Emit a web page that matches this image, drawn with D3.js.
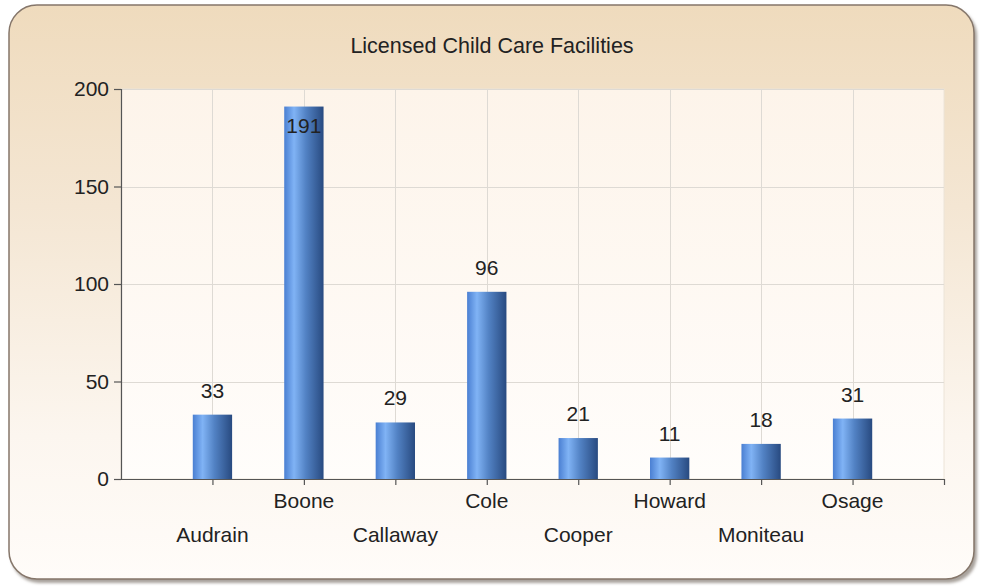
<!DOCTYPE html>
<html>
<head>
<meta charset="utf-8">
<script src="https://cdn.jsdelivr.net/npm/d3@7"></script>
<style>
  html, body { margin: 0; padding: 0; background: #ffffff; }
  svg { display: block; }
  text { font-family: "Liberation Sans", Arial, sans-serif; fill: #222; }
</style>
</head>
<body>
<svg id="chart" width="982" height="588"></svg>
<script>
// Licensed child care facilities by county
const counties = ["Audrain", "Boone", "Callaway", "Cole", "Cooper", "Howard", "Moniteau", "Osage"];
const facilities = [33, 191, 29, 96, 21, 11, 18, 31];
const yTicks = [0, 50, 100, 150, 200];
const chartTitle = "Licensed Child Care Facilities";

const W = 982, H = 588;
const plot = { left: 121, right: 944, top: 89, bottom: 479 };

const svg = d3.select("#chart");
const defs = svg.append("defs");

// Frame background: tan at top fading to near white
const frameGrad = defs.append("linearGradient").attr("id", "frameGrad")
  .attr("x1", 0).attr("y1", 0).attr("x2", 0).attr("y2", 1);
frameGrad.append("stop").attr("offset", "0%").attr("stop-color", "#efdbbd");
frameGrad.append("stop").attr("offset", "35%").attr("stop-color", "#f4e6d3");
frameGrad.append("stop").attr("offset", "75%").attr("stop-color", "#fcf6ef");
frameGrad.append("stop").attr("offset", "100%").attr("stop-color", "#fffcf9");

// Plot area background
const plotGrad = defs.append("linearGradient").attr("id", "plotGrad")
  .attr("x1", 0).attr("y1", 0).attr("x2", 0).attr("y2", 1);
plotGrad.append("stop").attr("offset", "0%").attr("stop-color", "#fdf4ea");
plotGrad.append("stop").attr("offset", "100%").attr("stop-color", "#fffdfb");

// Cylinder-like shading for the bars
const barGrad = defs.append("linearGradient").attr("id", "barGrad")
  .attr("x1", 0).attr("y1", 0).attr("x2", 1).attr("y2", 0);
barGrad.append("stop").attr("offset", "0%").attr("stop-color", "#4a7fd2");
barGrad.append("stop").attr("offset", "25%").attr("stop-color", "#80b3f5");
barGrad.append("stop").attr("offset", "55%").attr("stop-color", "#5282c4");
barGrad.append("stop").attr("offset", "100%").attr("stop-color", "#284a80");

const shadowBlur = defs.append("filter").attr("id", "shadowBlur")
  .attr("x", "-5%").attr("y", "-5%").attr("width", "110%").attr("height", "110%");
shadowBlur.append("feGaussianBlur").attr("stdDeviation", 1.5);

// Frame with soft shadow
svg.append("rect")
  .attr("x", 11).attr("y", 8).attr("width", 966).attr("height", 575)
  .attr("rx", 28).attr("ry", 28)
  .attr("fill", "#a8a29c").attr("filter", "url(#shadowBlur)");
svg.append("rect")
  .attr("x", 9).attr("y", 5).attr("width", 965).attr("height", 574)
  .attr("rx", 28).attr("ry", 28)
  .attr("fill", "url(#frameGrad)")
  .attr("stroke", "#85766a").attr("stroke-width", 1.5);

// Title
svg.append("text")
  .attr("x", 492).attr("y", 53)
  .attr("text-anchor", "middle")
  .style("font-size", "21.5px")
  .text(chartTitle);

// Scales
const x = d3.scaleLinear().domain([0, counties.length + 1]).range([plot.left, plot.right]);
const y = d3.scaleLinear().domain([0, 200]).range([plot.bottom, plot.top]);
const step = x(1) - x(0);
const barW = step * 0.43;

// Plot background
svg.append("rect")
  .attr("x", plot.left).attr("y", plot.top)
  .attr("width", plot.right - plot.left).attr("height", plot.bottom - plot.top)
  .attr("fill", "url(#plotGrad)")
  .attr("stroke", "#ece4d8").attr("stroke-width", 1);

// Gridlines
const grid = svg.append("g").attr("stroke", "#dedad4").attr("stroke-width", 1);
grid.selectAll("line.h").data(yTicks.filter(t => t > 0)).join("line")
  .attr("class", "h")
  .attr("x1", plot.left).attr("x2", plot.right)
  .attr("y1", d => Math.round(y(d)) + 0.5).attr("y2", d => Math.round(y(d)) + 0.5);
grid.selectAll("line.v").data(counties).join("line")
  .attr("class", "v")
  .attr("y1", plot.top).attr("y2", plot.bottom)
  .attr("x1", (d, i) => Math.round(x(i + 1)) + 0.5)
  .attr("x2", (d, i) => Math.round(x(i + 1)) + 0.5);

// Bars
svg.append("g").selectAll("rect").data(facilities).join("rect")
  .attr("x", (d, i) => x(i + 1) - barW / 2)
  .attr("y", d => y(d))
  .attr("width", barW)
  .attr("height", d => y(0) - y(d))
  .attr("fill", "url(#barGrad)");

// Value labels: above the bar, or inside its top if there is no room
svg.append("g").selectAll("text").data(facilities).join("text")
  .attr("x", (d, i) => x(i + 1))
  .attr("y", d => (y(d) - 34 < plot.top) ? y(d) + 26 : y(d) - 17)
  .attr("text-anchor", "middle")
  .style("font-size", "21px")
  .text(d => d);

// Y axis
const yAxis = d3.axisLeft(y).tickValues(yTicks).tickSize(7).tickPadding(5);
const gy = svg.append("g").attr("transform", `translate(${plot.left},0)`).call(yAxis);
gy.select(".domain").attr("stroke", "#555").attr("stroke-width", 1.2);
gy.selectAll(".tick line").attr("stroke", "#555").attr("stroke-width", 1.2);
gy.selectAll(".tick text").style("font-size", "21px").attr("fill", "#222")
  .style("font-family", "'Liberation Sans', Arial, sans-serif");

// X axis: category ticks plus closing tick at the right end
const xAxis = d3.axisBottom(x)
  .tickValues(d3.range(1, counties.length + 2))
  .tickSize(6).tickSizeOuter(0)
  .tickFormat(() => "");
const gx = svg.append("g").attr("transform", `translate(0,${plot.bottom})`).call(xAxis);
gx.select(".domain").attr("stroke", "#555").attr("stroke-width", 1.2);
gx.selectAll(".tick line").attr("stroke", "#555").attr("stroke-width", 1.2);

// Category labels, staggered on two rows
svg.append("g").selectAll("text").data(counties).join("text")
  .attr("x", (d, i) => x(i + 1))
  .attr("y", (d, i) => i % 2 === 0 ? 542 : 508)
  .attr("text-anchor", "middle")
  .style("font-size", "21px")
  .text(d => d);
</script>
</body>
</html>
